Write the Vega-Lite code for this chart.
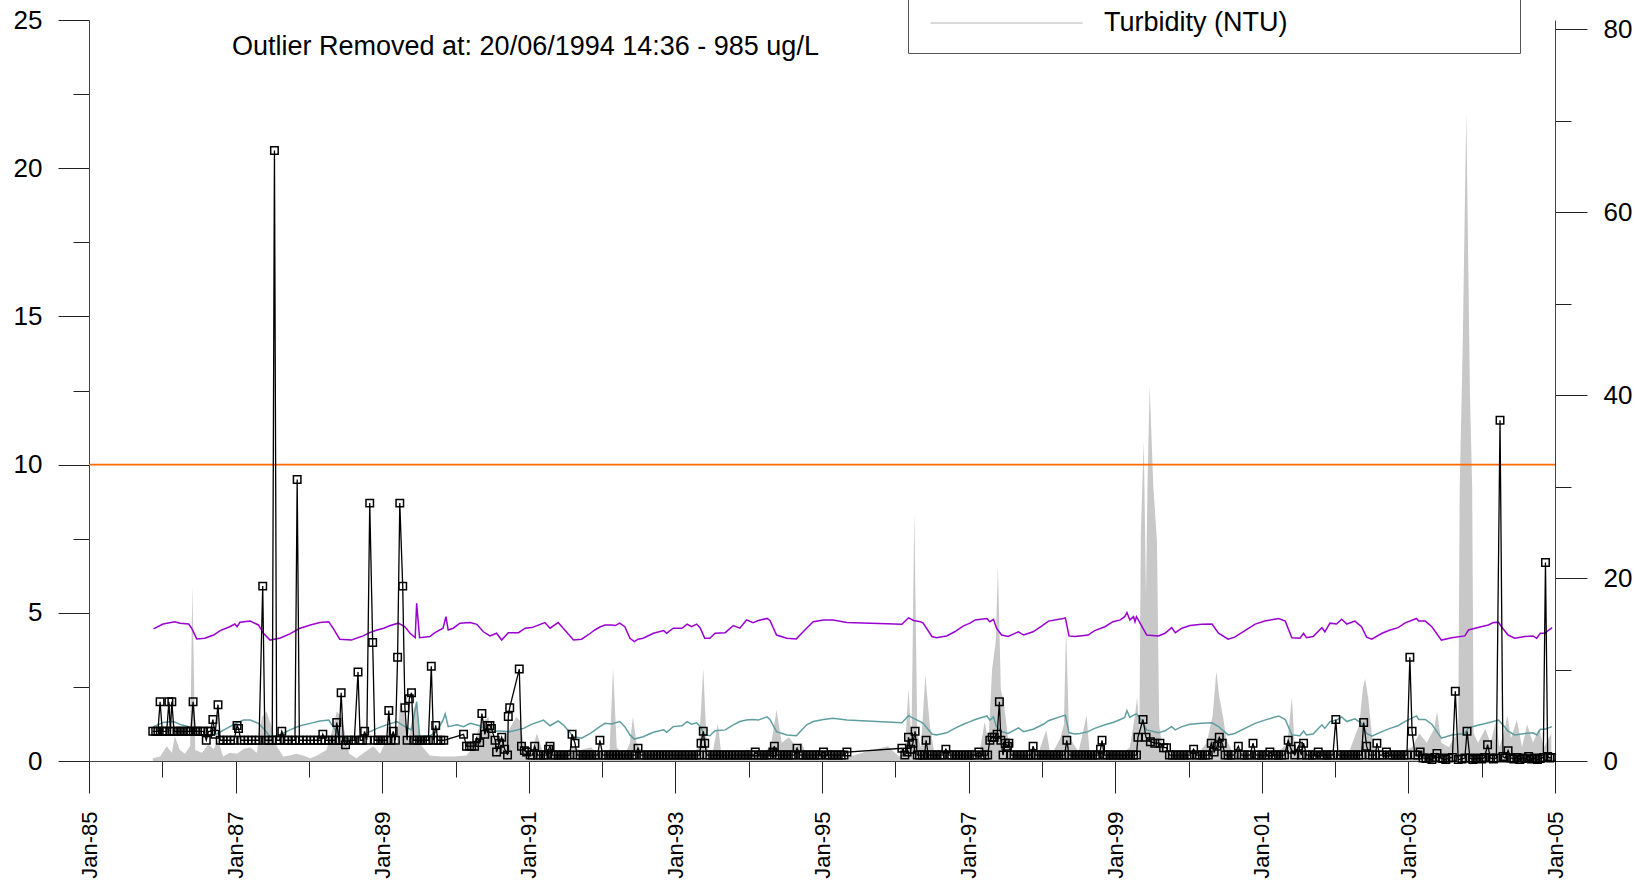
{
"$schema": "https://vega.github.io/schema/vega-lite/v6.json",
"width": 1466, "height": 741,
"autosize": {"type": "none"},
"padding": {"left": 89, "top": 20, "right": 87, "bottom": 120},
"background": "white",
"config": {"view": {"stroke": null}, "font": "Liberation Sans", "axis": {"grid": false, "domainColor": "#444", "tickColor": "#222", "labelColor": "#000", "labelFont": "Liberation Sans", "title": null}},
"title": {"text": "Outlier Removed at: 20/06/1994 14:36 - 985 ug/L", "anchor": "start", "frame": "group", "fontSize": 27, "fontWeight": "normal", "font": "Liberation Sans", "color": "#000", "offset": 0, "dx": 143, "dy": 81, "baseline": "middle"},
"datasets": {
"turb": [
{"year":1985.87,"turbidity":0.3},{"year":1985.97,"turbidity":0.5},{"year":1986.06,"turbidity":1.6},{"year":1986.13,"turbidity":0.9},{"year":1986.17,"turbidity":2.7},{"year":1986.24,"turbidity":1.2},{"year":1986.31,"turbidity":0.8},{"year":1986.38,"turbidity":1.6},{"year":1986.41,"turbidity":19.1},{"year":1986.45,"turbidity":1.2},{"year":1986.54,"turbidity":0.9},{"year":1986.63,"turbidity":1.8},{"year":1986.70,"turbidity":1.3},{"year":1986.76,"turbidity":2.3},{"year":1986.83,"turbidity":0.5},{"year":1986.92,"turbidity":0.9},{"year":1987.02,"turbidity":0.8},{"year":1987.11,"turbidity":1.3},{"year":1987.20,"turbidity":1.5},{"year":1987.29,"turbidity":0.9},{"year":1987.36,"turbidity":4.8},{"year":1987.42,"turbidity":5.4},{"year":1987.49,"turbidity":3.8},{"year":1987.56,"turbidity":1.6},{"year":1987.65,"turbidity":0.5},{"year":1987.74,"turbidity":0.6},{"year":1987.83,"turbidity":0.8},{"year":1987.92,"turbidity":0.6},{"year":1988.02,"turbidity":0.3},{"year":1988.11,"turbidity":0.6},{"year":1988.24,"turbidity":1.2},{"year":1988.34,"turbidity":4.0},{"year":1988.38,"turbidity":5.4},{"year":1988.45,"turbidity":4.8},{"year":1988.50,"turbidity":2.7},{"year":1988.55,"turbidity":0.8},{"year":1988.65,"turbidity":0.3},{"year":1988.75,"turbidity":0.9},{"year":1988.88,"turbidity":1.6},{"year":1988.97,"turbidity":0.8},{"year":1989.10,"turbidity":3.0},{"year":1989.15,"turbidity":3.0},{"year":1989.20,"turbidity":1.9},{"year":1989.25,"turbidity":6.7},{"year":1989.30,"turbidity":5.2},{"year":1989.36,"turbidity":2.3},{"year":1989.43,"turbidity":5.8},{"year":1989.47,"turbidity":6.1},{"year":1989.54,"turbidity":1.6},{"year":1989.65,"turbidity":0.6},{"year":1989.80,"turbidity":0.5},{"year":1989.98,"turbidity":0.5},{"year":1990.15,"turbidity":0.6},{"year":1990.25,"turbidity":1.6},{"year":1990.33,"turbidity":4.0},{"year":1990.45,"turbidity":4.8},{"year":1990.49,"turbidity":3.0},{"year":1990.55,"turbidity":1.6},{"year":1990.62,"turbidity":2.1},{"year":1990.70,"turbidity":3.0},{"year":1990.77,"turbidity":4.0},{"year":1990.83,"turbidity":4.8},{"year":1990.88,"turbidity":4.4},{"year":1990.93,"turbidity":1.9},{"year":1991.02,"turbidity":0.5},{"year":1991.11,"turbidity":3.0},{"year":1991.20,"turbidity":0.8},{"year":1991.30,"turbidity":0.5},{"year":1991.45,"turbidity":0.8},{"year":1991.60,"turbidity":1.5},{"year":1991.70,"turbidity":1.2},{"year":1991.85,"turbidity":1.5},{"year":1991.93,"turbidity":0.8},{"year":1992.02,"turbidity":1.2},{"year":1992.10,"turbidity":1.0},{"year":1992.15,"turbidity":10.1},{"year":1992.20,"turbidity":1.5},{"year":1992.30,"turbidity":0.5},{"year":1992.38,"turbidity":2.0},{"year":1992.42,"turbidity":4.8},{"year":1992.47,"turbidity":2.0},{"year":1992.60,"turbidity":0.5},{"year":1992.80,"turbidity":0.3},{"year":1993.00,"turbidity":0.4},{"year":1993.20,"turbidity":0.5},{"year":1993.32,"turbidity":1.5},{"year":1993.38,"turbidity":10.1},{"year":1993.43,"turbidity":1.5},{"year":1993.50,"turbidity":0.5},{"year":1993.58,"turbidity":4.1},{"year":1993.63,"turbidity":0.5},{"year":1993.80,"turbidity":0.4},{"year":1994.10,"turbidity":0.5},{"year":1994.30,"turbidity":1.5},{"year":1994.38,"turbidity":5.6},{"year":1994.45,"turbidity":2.0},{"year":1994.55,"turbidity":2.6},{"year":1994.65,"turbidity":1.5},{"year":1994.72,"turbidity":2.0},{"year":1994.80,"turbidity":0.5},{"year":1995.00,"turbidity":0.4},{"year":1995.30,"turbidity":0.3},{"year":1995.60,"turbidity":1.0},{"year":1995.90,"turbidity":1.6},{"year":1996.05,"turbidity":0.5},{"year":1996.13,"turbidity":1.0},{"year":1996.18,"turbidity":8.0},{"year":1996.22,"turbidity":2.0},{"year":1996.26,"turbidity":27.2},{"year":1996.30,"turbidity":3.0},{"year":1996.35,"turbidity":1.5},{"year":1996.41,"turbidity":9.4},{"year":1996.47,"turbidity":4.0},{"year":1996.53,"turbidity":1.0},{"year":1996.60,"turbidity":0.4},{"year":1996.80,"turbidity":0.3},{"year":1997.00,"turbidity":0.5},{"year":1997.15,"turbidity":1.0},{"year":1997.22,"turbidity":4.3},{"year":1997.27,"turbidity":2.0},{"year":1997.32,"turbidity":10.0},{"year":1997.37,"turbidity":13.0},{"year":1997.40,"turbidity":21.2},{"year":1997.44,"turbidity":7.8},{"year":1997.48,"turbidity":6.5},{"year":1997.53,"turbidity":3.0},{"year":1997.58,"turbidity":1.0},{"year":1997.70,"turbidity":0.5},{"year":1997.80,"turbidity":0.8},{"year":1997.90,"turbidity":1.5},{"year":1997.95,"turbidity":0.8},{"year":1998.06,"turbidity":3.4},{"year":1998.12,"turbidity":0.5},{"year":1998.25,"turbidity":2.5},{"year":1998.30,"turbidity":4.0},{"year":1998.33,"turbidity":14.6},{"year":1998.37,"turbidity":3.0},{"year":1998.42,"turbidity":2.0},{"year":1998.50,"turbidity":1.0},{"year":1998.61,"turbidity":5.0},{"year":1998.65,"turbidity":1.0},{"year":1998.80,"turbidity":0.6},{"year":1998.95,"turbidity":1.0},{"year":1999.10,"turbidity":0.8},{"year":1999.20,"turbidity":1.5},{"year":1999.27,"turbidity":5.0},{"year":1999.30,"turbidity":7.0},{"year":1999.33,"turbidity":3.0},{"year":1999.35,"turbidity":25},{"year":1999.39,"turbidity":35},{"year":1999.42,"turbidity":18},{"year":1999.44,"turbidity":30},{"year":1999.47,"turbidity":41},{"year":1999.52,"turbidity":30},{"year":1999.57,"turbidity":24},{"year":1999.60,"turbidity":4},{"year":1999.65,"turbidity":1.0},{"year":1999.80,"turbidity":0.6},{"year":2000.00,"turbidity":0.5},{"year":2000.15,"turbidity":1.0},{"year":2000.25,"turbidity":2.0},{"year":2000.33,"turbidity":5.0},{"year":2000.38,"turbidity":9.8},{"year":2000.42,"turbidity":7.0},{"year":2000.47,"turbidity":4.9},{"year":2000.52,"turbidity":2.3},{"year":2000.60,"turbidity":1.0},{"year":2000.80,"turbidity":0.8},{"year":2001.00,"turbidity":1.0},{"year":2001.20,"turbidity":0.8},{"year":2001.35,"turbidity":2.0},{"year":2001.41,"turbidity":7.0},{"year":2001.45,"turbidity":1.5},{"year":2001.60,"turbidity":0.8},{"year":2001.80,"turbidity":1.0},{"year":2002.00,"turbidity":0.8},{"year":2002.20,"turbidity":1.2},{"year":2002.33,"turbidity":4.0},{"year":2002.38,"turbidity":8.0},{"year":2002.41,"turbidity":9.0},{"year":2002.45,"turbidity":7.0},{"year":2002.52,"turbidity":1.5},{"year":2002.70,"turbidity":0.6},{"year":2002.90,"turbidity":1.0},{"year":2003.05,"turbidity":1.5},{"year":2003.15,"turbidity":3.0},{"year":2003.25,"turbidity":2.0},{"year":2003.35,"turbidity":3.5},{"year":2003.39,"turbidity":5.4},{"year":2003.45,"turbidity":2.0},{"year":2003.55,"turbidity":1.5},{"year":2003.62,"turbidity":2.5},{"year":2003.68,"turbidity":3},{"year":2003.70,"turbidity":30},{"year":2003.74,"turbidity":45},{"year":2003.79,"turbidity":71},{"year":2003.84,"turbidity":40},{"year":2003.87,"turbidity":30},{"year":2003.89,"turbidity":3},{"year":2003.95,"turbidity":2.0},{"year":2004.05,"turbidity":3.5},{"year":2004.12,"turbidity":2.0},{"year":2004.20,"turbidity":4.5},{"year":2004.24,"turbidity":1.5},{"year":2004.30,"turbidity":3.0},{"year":2004.35,"turbidity":5.0},{"year":2004.40,"turbidity":2.5},{"year":2004.48,"turbidity":4.5},{"year":2004.55,"turbidity":1.5},{"year":2004.62,"turbidity":4.0},{"year":2004.70,"turbidity":2.0},{"year":2004.78,"turbidity":3.5},{"year":2004.85,"turbidity":1.5},{"year":2004.95,"turbidity":3.0}
],
"purple": [
{"year":1985.88,"value":4.46},{"year":1986.01,"value":4.62},{"year":1986.17,"value":4.70},{"year":1986.24,"value":4.65},{"year":1986.36,"value":4.62},{"year":1986.40,"value":4.48},{"year":1986.47,"value":4.12},{"year":1986.58,"value":4.14},{"year":1986.70,"value":4.25},{"year":1986.79,"value":4.40},{"year":1986.92,"value":4.53},{"year":1986.99,"value":4.62},{"year":1987.02,"value":4.53},{"year":1987.06,"value":4.68},{"year":1987.20,"value":4.72},{"year":1987.31,"value":4.59},{"year":1987.38,"value":4.31},{"year":1987.47,"value":4.08},{"year":1987.61,"value":4.15},{"year":1987.74,"value":4.29},{"year":1987.88,"value":4.48},{"year":1988.02,"value":4.59},{"year":1988.15,"value":4.67},{"year":1988.27,"value":4.70},{"year":1988.33,"value":4.48},{"year":1988.42,"value":4.11},{"year":1988.58,"value":4.08},{"year":1988.74,"value":4.22},{"year":1988.83,"value":4.33},{"year":1988.93,"value":4.42},{"year":1989.02,"value":4.48},{"year":1989.11,"value":4.57},{"year":1989.22,"value":4.65},{"year":1989.31,"value":4.53},{"year":1989.38,"value":4.31},{"year":1989.45,"value":4.16},{"year":1989.47,"value":5.32},{"year":1989.51,"value":4.16},{"year":1989.65,"value":4.20},{"year":1989.72,"value":4.33},{"year":1989.83,"value":4.48},{"year":1989.87,"value":4.87},{"year":1989.90,"value":4.42},{"year":1989.97,"value":4.48},{"year":1990.06,"value":4.65},{"year":1990.20,"value":4.67},{"year":1990.29,"value":4.61},{"year":1990.38,"value":4.36},{"year":1990.47,"value":4.22},{"year":1990.56,"value":4.31},{"year":1990.63,"value":4.08},{"year":1990.72,"value":4.33},{"year":1990.86,"value":4.33},{"year":1990.95,"value":4.48},{"year":1991.04,"value":4.50},{"year":1991.22,"value":4.67},{"year":1991.29,"value":4.48},{"year":1991.40,"value":4.67},{"year":1991.47,"value":4.48},{"year":1991.61,"value":4.08},{"year":1991.72,"value":4.11},{"year":1991.84,"value":4.31},{"year":1991.90,"value":4.42},{"year":1991.97,"value":4.52},{"year":1992.04,"value":4.59},{"year":1992.13,"value":4.59},{"year":1992.18,"value":4.57},{"year":1992.24,"value":4.65},{"year":1992.31,"value":4.53},{"year":1992.38,"value":4.14},{"year":1992.44,"value":4.03},{"year":1992.49,"value":4.11},{"year":1992.56,"value":4.14},{"year":1992.70,"value":4.31},{"year":1992.84,"value":4.40},{"year":1992.88,"value":4.31},{"year":1992.97,"value":4.48},{"year":1993.09,"value":4.48},{"year":1993.16,"value":4.62},{"year":1993.22,"value":4.53},{"year":1993.29,"value":4.62},{"year":1993.34,"value":4.48},{"year":1993.40,"value":4.14},{"year":1993.47,"value":4.14},{"year":1993.54,"value":4.31},{"year":1993.68,"value":4.33},{"year":1993.79,"value":4.57},{"year":1993.88,"value":4.48},{"year":1993.97,"value":4.76},{"year":1994.06,"value":4.67},{"year":1994.13,"value":4.74},{"year":1994.25,"value":4.81},{"year":1994.29,"value":4.74},{"year":1994.38,"value":4.25},{"year":1994.52,"value":4.14},{"year":1994.65,"value":4.12},{"year":1994.70,"value":4.25},{"year":1994.79,"value":4.48},{"year":1994.88,"value":4.70},{"year":1995.02,"value":4.76},{"year":1995.15,"value":4.76},{"year":1995.34,"value":4.67},{"year":1996.09,"value":4.61},{"year":1996.18,"value":4.83},{"year":1996.25,"value":4.74},{"year":1996.34,"value":4.70},{"year":1996.38,"value":4.65},{"year":1996.50,"value":4.20},{"year":1996.56,"value":4.16},{"year":1996.70,"value":4.22},{"year":1996.81,"value":4.36},{"year":1996.93,"value":4.56},{"year":1997.02,"value":4.65},{"year":1997.09,"value":4.76},{"year":1997.25,"value":4.81},{"year":1997.29,"value":4.70},{"year":1997.34,"value":4.78},{"year":1997.38,"value":4.48},{"year":1997.45,"value":4.25},{"year":1997.54,"value":4.20},{"year":1997.68,"value":4.36},{"year":1997.75,"value":4.25},{"year":1997.88,"value":4.36},{"year":1998.02,"value":4.59},{"year":1998.09,"value":4.72},{"year":1998.29,"value":4.81},{"year":1998.32,"value":4.83},{"year":1998.37,"value":4.22},{"year":1998.45,"value":4.20},{"year":1998.52,"value":4.22},{"year":1998.63,"value":4.25},{"year":1998.72,"value":4.40},{"year":1998.86,"value":4.53},{"year":1998.97,"value":4.70},{"year":1999.07,"value":4.76},{"year":1999.13,"value":4.87},{"year":1999.16,"value":5.01},{"year":1999.20,"value":4.76},{"year":1999.25,"value":4.87},{"year":1999.27,"value":4.70},{"year":1999.29,"value":4.87},{"year":1999.34,"value":4.65},{"year":1999.43,"value":4.25},{"year":1999.59,"value":4.22},{"year":1999.68,"value":4.31},{"year":1999.77,"value":4.50},{"year":1999.82,"value":4.33},{"year":1999.91,"value":4.48},{"year":2000.02,"value":4.57},{"year":2000.18,"value":4.61},{"year":2000.32,"value":4.62},{"year":2000.41,"value":4.31},{"year":2000.54,"value":4.11},{"year":2000.63,"value":4.18},{"year":2000.77,"value":4.40},{"year":2000.91,"value":4.62},{"year":2001.04,"value":4.72},{"year":2001.23,"value":4.81},{"year":2001.32,"value":4.72},{"year":2001.41,"value":4.16},{"year":2001.52,"value":4.14},{"year":2001.57,"value":4.31},{"year":2001.61,"value":4.16},{"year":2001.70,"value":4.20},{"year":2001.82,"value":4.50},{"year":2001.86,"value":4.36},{"year":2001.93,"value":4.65},{"year":2002.02,"value":4.62},{"year":2002.09,"value":4.78},{"year":2002.16,"value":4.62},{"year":2002.27,"value":4.72},{"year":2002.36,"value":4.53},{"year":2002.43,"value":4.18},{"year":2002.50,"value":4.11},{"year":2002.64,"value":4.31},{"year":2002.75,"value":4.42},{"year":2002.86,"value":4.50},{"year":2002.95,"value":4.65},{"year":2003.11,"value":4.81},{"year":2003.14,"value":4.72},{"year":2003.23,"value":4.72},{"year":2003.32,"value":4.53},{"year":2003.45,"value":4.08},{"year":2003.59,"value":4.16},{"year":2003.77,"value":4.22},{"year":2003.82,"value":4.42},{"year":2003.91,"value":4.48},{"year":2004.09,"value":4.59},{"year":2004.16,"value":4.67},{"year":2004.23,"value":4.68},{"year":2004.27,"value":4.53},{"year":2004.36,"value":4.25},{"year":2004.45,"value":4.14},{"year":2004.59,"value":4.20},{"year":2004.70,"value":4.22},{"year":2004.75,"value":4.14},{"year":2004.80,"value":4.31},{"year":2004.86,"value":4.31},{"year":2004.96,"value":4.50}
],
"teal": [
{"year":1985.88,"value":1.16},{"year":1986.01,"value":1.30},{"year":1986.15,"value":1.33},{"year":1986.26,"value":1.22},{"year":1986.36,"value":1.16},{"year":1986.47,"value":0.90},{"year":1986.61,"value":0.82},{"year":1986.74,"value":0.91},{"year":1986.88,"value":1.10},{"year":1987.02,"value":1.29},{"year":1987.11,"value":1.38},{"year":1987.20,"value":1.38},{"year":1987.31,"value":1.27},{"year":1987.38,"value":1.10},{"year":1987.47,"value":0.82},{"year":1987.61,"value":0.88},{"year":1987.74,"value":1.05},{"year":1987.88,"value":1.19},{"year":1988.02,"value":1.27},{"year":1988.15,"value":1.35},{"year":1988.27,"value":1.38},{"year":1988.33,"value":1.16},{"year":1988.42,"value":0.82},{"year":1988.56,"value":0.74},{"year":1988.74,"value":0.88},{"year":1988.93,"value":1.10},{"year":1989.06,"value":1.22},{"year":1989.20,"value":1.33},{"year":1989.31,"value":1.16},{"year":1989.40,"value":1.05},{"year":1989.47,"value":2.00},{"year":1989.51,"value":0.82},{"year":1989.65,"value":0.85},{"year":1989.74,"value":0.99},{"year":1989.83,"value":1.38},{"year":1989.86,"value":1.59},{"year":1989.90,"value":1.16},{"year":1990.02,"value":1.22},{"year":1990.11,"value":1.16},{"year":1990.20,"value":1.27},{"year":1990.33,"value":1.19},{"year":1990.43,"value":1.05},{"year":1990.52,"value":1.01},{"year":1990.61,"value":1.01},{"year":1990.74,"value":0.99},{"year":1990.93,"value":1.10},{"year":1991.02,"value":1.22},{"year":1991.20,"value":1.38},{"year":1991.29,"value":1.19},{"year":1991.40,"value":1.35},{"year":1991.47,"value":1.22},{"year":1991.61,"value":0.82},{"year":1991.72,"value":0.77},{"year":1991.84,"value":0.93},{"year":1991.97,"value":1.16},{"year":1992.04,"value":1.27},{"year":1992.13,"value":1.25},{"year":1992.24,"value":1.33},{"year":1992.31,"value":1.16},{"year":1992.38,"value":0.88},{"year":1992.44,"value":0.74},{"year":1992.56,"value":0.82},{"year":1992.70,"value":0.97},{"year":1992.84,"value":1.05},{"year":1992.88,"value":0.97},{"year":1992.97,"value":1.16},{"year":1993.09,"value":1.19},{"year":1993.16,"value":1.33},{"year":1993.22,"value":1.24},{"year":1993.29,"value":1.29},{"year":1993.34,"value":1.16},{"year":1993.40,"value":0.88},{"year":1993.47,"value":0.85},{"year":1993.54,"value":1.02},{"year":1993.68,"value":1.05},{"year":1993.79,"value":1.22},{"year":1993.88,"value":1.33},{"year":1993.97,"value":1.38},{"year":1994.06,"value":1.40},{"year":1994.13,"value":1.38},{"year":1994.25,"value":1.49},{"year":1994.29,"value":1.40},{"year":1994.38,"value":0.99},{"year":1994.52,"value":0.88},{"year":1994.65,"value":0.85},{"year":1994.70,"value":0.99},{"year":1994.79,"value":1.22},{"year":1994.88,"value":1.33},{"year":1995.02,"value":1.40},{"year":1995.15,"value":1.44},{"year":1995.34,"value":1.38},{"year":1996.09,"value":1.29},{"year":1996.18,"value":1.53},{"year":1996.25,"value":1.44},{"year":1996.34,"value":1.33},{"year":1996.38,"value":1.27},{"year":1996.50,"value":0.91},{"year":1996.56,"value":0.88},{"year":1996.70,"value":0.95},{"year":1996.81,"value":1.10},{"year":1996.93,"value":1.24},{"year":1997.02,"value":1.33},{"year":1997.09,"value":1.40},{"year":1997.25,"value":1.52},{"year":1997.29,"value":1.38},{"year":1997.34,"value":1.49},{"year":1997.38,"value":1.16},{"year":1997.45,"value":0.99},{"year":1997.54,"value":0.93},{"year":1997.68,"value":1.12},{"year":1997.75,"value":0.99},{"year":1997.88,"value":1.07},{"year":1998.02,"value":1.24},{"year":1998.09,"value":1.36},{"year":1998.29,"value":1.53},{"year":1998.32,"value":1.54},{"year":1998.37,"value":0.95},{"year":1998.45,"value":0.91},{"year":1998.52,"value":0.93},{"year":1998.63,"value":0.99},{"year":1998.72,"value":1.10},{"year":1998.86,"value":1.22},{"year":1998.97,"value":1.30},{"year":1999.07,"value":1.40},{"year":1999.13,"value":1.47},{"year":1999.16,"value":1.70},{"year":1999.20,"value":1.47},{"year":1999.25,"value":1.55},{"year":1999.29,"value":1.59},{"year":1999.34,"value":1.44},{"year":1999.43,"value":1.05},{"year":1999.59,"value":0.95},{"year":1999.68,"value":1.02},{"year":1999.77,"value":1.16},{"year":1999.82,"value":1.05},{"year":1999.91,"value":1.16},{"year":2000.02,"value":1.24},{"year":2000.18,"value":1.27},{"year":2000.32,"value":1.29},{"year":2000.41,"value":1.16},{"year":2000.54,"value":0.88},{"year":2000.63,"value":0.93},{"year":2000.77,"value":1.10},{"year":2000.91,"value":1.27},{"year":2001.04,"value":1.38},{"year":2001.23,"value":1.52},{"year":2001.32,"value":1.40},{"year":2001.41,"value":0.88},{"year":2001.52,"value":0.85},{"year":2001.57,"value":1.01},{"year":2001.61,"value":0.88},{"year":2001.70,"value":0.91},{"year":2001.82,"value":1.22},{"year":2001.86,"value":1.10},{"year":2001.93,"value":1.33},{"year":2002.02,"value":1.38},{"year":2002.09,"value":1.49},{"year":2002.16,"value":1.33},{"year":2002.27,"value":1.42},{"year":2002.36,"value":1.27},{"year":2002.43,"value":0.93},{"year":2002.50,"value":0.84},{"year":2002.64,"value":0.99},{"year":2002.75,"value":1.10},{"year":2002.86,"value":1.19},{"year":2002.95,"value":1.33},{"year":2003.11,"value":1.52},{"year":2003.14,"value":1.40},{"year":2003.23,"value":1.40},{"year":2003.32,"value":1.24},{"year":2003.45,"value":0.77},{"year":2003.59,"value":0.88},{"year":2003.77,"value":0.93},{"year":2003.82,"value":1.12},{"year":2003.91,"value":1.18},{"year":2004.09,"value":1.29},{"year":2004.23,"value":1.38},{"year":2004.27,"value":1.27},{"year":2004.36,"value":1.01},{"year":2004.45,"value":0.88},{"year":2004.59,"value":0.93},{"year":2004.70,"value":0.95},{"year":2004.75,"value":0.88},{"year":2004.80,"value":1.07},{"year":2004.86,"value":1.07},{"year":2004.96,"value":1.16}
],
"conc": [
{"year":1985.87,"conc":1.0},{"year":1985.91,"conc":1.0},{"year":1985.94,"conc":1.0},{"year":1985.97,"conc":2.0},{"year":1986.00,"conc":1.0},{"year":1986.03,"conc":1.0},{"year":1986.06,"conc":1.0},{"year":1986.09,"conc":2.0},{"year":1986.11,"conc":1.0},{"year":1986.13,"conc":2.0},{"year":1986.16,"conc":1.0},{"year":1986.20,"conc":1.0},{"year":1986.24,"conc":1.0},{"year":1986.28,"conc":1.0},{"year":1986.32,"conc":1.0},{"year":1986.36,"conc":1.0},{"year":1986.39,"conc":1.0},{"year":1986.42,"conc":2.0},{"year":1986.45,"conc":1.0},{"year":1986.48,"conc":1.0},{"year":1986.52,"conc":1.0},{"year":1986.56,"conc":1.0},{"year":1986.60,"conc":0.7},{"year":1986.63,"conc":1.0},{"year":1986.66,"conc":1.0},{"year":1986.69,"conc":1.4},{"year":1986.72,"conc":0.9},{"year":1986.76,"conc":1.9},{"year":1986.79,"conc":0.7},
{"year":1986.83,"conc":0.7},{"year":1986.88,"conc":0.7},{"year":1986.93,"conc":0.7},{"year":1986.98,"conc":0.7},{"year":1987.02,"conc":1.2},{"year":1987.04,"conc":1.1},{"year":1987.07,"conc":0.7},{"year":1987.12,"conc":0.7},{"year":1987.17,"conc":0.7},{"year":1987.22,"conc":0.7},{"year":1987.27,"conc":0.7},{"year":1987.32,"conc":0.7},{"year":1987.37,"conc":5.9},{"year":1987.40,"conc":0.7},{"year":1987.45,"conc":0.7},{"year":1987.50,"conc":0.7},{"year":1987.53,"conc":20.6},{"year":1987.56,"conc":0.7},{"year":1987.60,"conc":0.7},{"year":1987.63,"conc":1.0},{"year":1987.67,"conc":0.7},{"year":1987.72,"conc":0.7},{"year":1987.77,"conc":0.7},{"year":1987.81,"conc":0.7},{"year":1987.84,"conc":9.5},{"year":1987.87,"conc":0.7},{"year":1987.92,"conc":0.7},{"year":1987.97,"conc":0.7},{"year":1988.02,"conc":0.7},{"year":1988.07,"conc":0.7},{"year":1988.12,"conc":0.7},{"year":1988.17,"conc":0.7},{"year":1988.19,"conc":0.9},{"year":1988.22,"conc":0.7},{"year":1988.27,"conc":0.7},{"year":1988.32,"conc":0.7},{"year":1988.36,"conc":0.7},{"year":1988.38,"conc":1.3},{"year":1988.41,"conc":0.7},{"year":1988.44,"conc":2.3},{"year":1988.47,"conc":0.7},{"year":1988.50,"conc":0.55},{"year":1988.54,"conc":0.7},{"year":1988.58,"conc":0.7},{"year":1988.62,"conc":0.7},{"year":1988.67,"conc":3.0},{"year":1988.70,"conc":0.7},{"year":1988.73,"conc":0.7},{"year":1988.76,"conc":1.0},{"year":1988.79,"conc":0.7},{"year":1988.83,"conc":8.7},{"year":1988.87,"conc":4.0},{"year":1988.90,"conc":0.7},{"year":1988.94,"conc":0.7},{"year":1988.98,"conc":0.7},{"year":1989.02,"conc":0.7},{"year":1989.06,"conc":0.7},{"year":1989.09,"conc":1.7},{"year":1989.12,"conc":0.7},{"year":1989.15,"conc":1.0},{"year":1989.18,"conc":0.7},{"year":1989.21,"conc":3.5},{"year":1989.24,"conc":8.7},{"year":1989.28,"conc":5.9},{"year":1989.31,"conc":1.8},{"year":1989.34,"conc":0.7},{"year":1989.37,"conc":2.1},{"year":1989.40,"conc":2.3},{"year":1989.43,"conc":0.7},{"year":1989.47,"conc":0.7},{"year":1989.51,"conc":0.7},{"year":1989.55,"conc":0.7},{"year":1989.59,"conc":0.7},{"year":1989.63,"conc":0.7},{"year":1989.67,"conc":3.2},{"year":1989.70,"conc":0.7},{"year":1989.73,"conc":1.2},{"year":1989.76,"conc":0.7},{"year":1989.80,"conc":0.7},{"year":1989.84,"conc":0.7},
{"year":1990.11,"conc":0.9},{"year":1990.15,"conc":0.5},{"year":1990.19,"conc":0.5},{"year":1990.22,"conc":0.5},{"year":1990.26,"conc":0.5},{"year":1990.29,"conc":0.78},{"year":1990.33,"conc":0.62},{"year":1990.36,"conc":1.6},{"year":1990.40,"conc":0.9},{"year":1990.44,"conc":1.2},{"year":1990.47,"conc":1.2},{"year":1990.49,"conc":1.1},{"year":1990.54,"conc":0.7},{"year":1990.56,"conc":0.3},{"year":1990.60,"conc":0.6},{"year":1990.63,"conc":0.8},{"year":1990.67,"conc":0.4},{"year":1990.71,"conc":0.2},{"year":1990.72,"conc":1.5},{"year":1990.74,"conc":1.8},{"year":1990.87,"conc":3.1},{"year":1990.90,"conc":0.5},{"year":1990.94,"conc":0.35},{"year":1990.97,"conc":0.3},{"year":1991.02,"conc":0.2},{"year":1991.05,"conc":0.2},{"year":1991.08,"conc":0.5},
{"year":1991.12,"conc":0.2},{"year":1991.16,"conc":0.2},{"year":1991.20,"conc":0.2},{"year":1991.24,"conc":0.2},{"year":1991.27,"conc":0.4},{"year":1991.29,"conc":0.5},{"year":1991.32,"conc":0.2},{"year":1991.36,"conc":0.2},{"year":1991.40,"conc":0.2},{"year":1991.44,"conc":0.2},{"year":1991.48,"conc":0.2},{"year":1991.52,"conc":0.2},{"year":1991.56,"conc":0.2},{"year":1991.59,"conc":0.9},{"year":1991.63,"conc":0.6},{"year":1991.66,"conc":0.2},{"year":1991.70,"conc":0.2},{"year":1991.74,"conc":0.2},{"year":1991.78,"conc":0.2},{"year":1991.82,"conc":0.2},{"year":1991.86,"conc":0.2},{"year":1991.90,"conc":0.2},{"year":1991.94,"conc":0.2},{"year":1991.97,"conc":0.7},{"year":1992.01,"conc":0.2},{"year":1992.05,"conc":0.2},{"year":1992.09,"conc":0.2},{"year":1992.13,"conc":0.2},{"year":1992.17,"conc":0.2},{"year":1992.21,"conc":0.2},{"year":1992.25,"conc":0.2},{"year":1992.29,"conc":0.2},{"year":1992.33,"conc":0.2},{"year":1992.37,"conc":0.2},{"year":1992.41,"conc":0.2},{"year":1992.45,"conc":0.2},{"year":1992.49,"conc":0.43},{"year":1992.53,"conc":0.2},{"year":1992.57,"conc":0.2},{"year":1992.61,"conc":0.2},{"year":1992.65,"conc":0.2},{"year":1992.69,"conc":0.2},{"year":1992.73,"conc":0.2},{"year":1992.77,"conc":0.2},{"year":1992.81,"conc":0.2},{"year":1992.85,"conc":0.2},{"year":1992.89,"conc":0.2},{"year":1992.93,"conc":0.2},{"year":1992.97,"conc":0.2},{"year":1993.01,"conc":0.2},{"year":1993.05,"conc":0.2},{"year":1993.09,"conc":0.2},{"year":1993.13,"conc":0.2},{"year":1993.17,"conc":0.2},{"year":1993.21,"conc":0.2},{"year":1993.25,"conc":0.2},{"year":1993.29,"conc":0.2},{"year":1993.33,"conc":0.2},{"year":1993.35,"conc":0.6},{"year":1993.38,"conc":1.0},{"year":1993.40,"conc":0.6},{"year":1993.43,"conc":0.2},{"year":1993.47,"conc":0.2},{"year":1993.51,"conc":0.2},{"year":1993.55,"conc":0.2},{"year":1993.59,"conc":0.2},{"year":1993.63,"conc":0.2},{"year":1993.67,"conc":0.2},{"year":1993.71,"conc":0.2},{"year":1993.75,"conc":0.2},{"year":1993.79,"conc":0.2},{"year":1993.83,"conc":0.2},{"year":1993.87,"conc":0.2},{"year":1993.91,"conc":0.2},{"year":1993.95,"conc":0.2},{"year":1993.99,"conc":0.2},{"year":1994.03,"conc":0.2},{"year":1994.07,"conc":0.2},{"year":1994.09,"conc":0.3},{"year":1994.13,"conc":0.2},{"year":1994.17,"conc":0.2},{"year":1994.21,"conc":0.2},{"year":1994.25,"conc":0.2},{"year":1994.29,"conc":0.2},{"year":1994.33,"conc":0.3},{"year":1994.35,"conc":0.5},{"year":1994.38,"conc":0.2},{"year":1994.42,"conc":0.2},{"year":1994.46,"conc":0.2},{"year":1994.50,"conc":0.2},{"year":1994.54,"conc":0.2},{"year":1994.58,"conc":0.2},{"year":1994.62,"conc":0.2},{"year":1994.66,"conc":0.43},{"year":1994.70,"conc":0.2},{"year":1994.74,"conc":0.2},{"year":1994.78,"conc":0.2},{"year":1994.82,"conc":0.2},{"year":1994.86,"conc":0.2},{"year":1994.90,"conc":0.2},{"year":1994.94,"conc":0.2},{"year":1994.98,"conc":0.2},{"year":1995.02,"conc":0.3},{"year":1995.06,"conc":0.2},{"year":1995.10,"conc":0.2},{"year":1995.14,"conc":0.2},{"year":1995.18,"conc":0.2},{"year":1995.22,"conc":0.2},{"year":1995.26,"conc":0.2},{"year":1995.30,"conc":0.2},{"year":1995.34,"conc":0.3},
{"year":1996.09,"conc":0.43},{"year":1996.13,"conc":0.2},{"year":1996.16,"conc":0.3},{"year":1996.18,"conc":0.8},{"year":1996.21,"conc":0.4},{"year":1996.24,"conc":0.6},{"year":1996.27,"conc":1.0},{"year":1996.30,"conc":0.2},{"year":1996.33,"conc":0.2},{"year":1996.37,"conc":0.2},{"year":1996.40,"conc":0.2},{"year":1996.42,"conc":0.7},{"year":1996.45,"conc":0.2},{"year":1996.49,"conc":0.2},{"year":1996.53,"conc":0.2},{"year":1996.57,"conc":0.2},{"year":1996.61,"conc":0.2},{"year":1996.65,"conc":0.2},{"year":1996.69,"conc":0.4},{"year":1996.73,"conc":0.2},{"year":1996.77,"conc":0.2},{"year":1996.81,"conc":0.2},{"year":1996.85,"conc":0.2},{"year":1996.89,"conc":0.2},{"year":1996.93,"conc":0.2},{"year":1996.97,"conc":0.2},{"year":1997.01,"conc":0.2},{"year":1997.05,"conc":0.2},{"year":1997.09,"conc":0.2},{"year":1997.14,"conc":0.3},{"year":1997.18,"conc":0.2},{"year":1997.22,"conc":0.2},{"year":1997.26,"conc":0.2},{"year":1997.29,"conc":0.7},{"year":1997.32,"conc":0.8},{"year":1997.35,"conc":0.8},{"year":1997.39,"conc":0.9},{"year":1997.42,"conc":2.0},{"year":1997.44,"conc":0.7},{"year":1997.47,"conc":0.2},{"year":1997.50,"conc":0.6},{"year":1997.53,"conc":0.5},{"year":1997.55,"conc":0.6},{"year":1997.58,"conc":0.2},{"year":1997.62,"conc":0.2},{"year":1997.66,"conc":0.2},{"year":1997.70,"conc":0.2},{"year":1997.74,"conc":0.2},{"year":1997.78,"conc":0.2},{"year":1997.82,"conc":0.2},{"year":1997.85,"conc":0.2},{"year":1997.88,"conc":0.5},{"year":1997.91,"conc":0.2},{"year":1997.95,"conc":0.2},{"year":1997.99,"conc":0.2},{"year":1998.03,"conc":0.2},{"year":1998.07,"conc":0.2},{"year":1998.11,"conc":0.2},{"year":1998.15,"conc":0.2},{"year":1998.19,"conc":0.2},{"year":1998.23,"conc":0.2},{"year":1998.27,"conc":0.2},{"year":1998.31,"conc":0.2},{"year":1998.34,"conc":0.7},{"year":1998.37,"conc":0.2},{"year":1998.41,"conc":0.2},{"year":1998.45,"conc":0.2},{"year":1998.49,"conc":0.2},{"year":1998.53,"conc":0.2},{"year":1998.57,"conc":0.2},{"year":1998.61,"conc":0.2},{"year":1998.65,"conc":0.2},{"year":1998.69,"conc":0.2},{"year":1998.73,"conc":0.2},{"year":1998.77,"conc":0.2},{"year":1998.80,"conc":0.4},{"year":1998.82,"conc":0.7},{"year":1998.85,"conc":0.2},{"year":1998.89,"conc":0.2},{"year":1998.93,"conc":0.2},{"year":1998.97,"conc":0.2},{"year":1999.01,"conc":0.2},{"year":1999.05,"conc":0.2},{"year":1999.09,"conc":0.2},{"year":1999.13,"conc":0.2},{"year":1999.17,"conc":0.2},{"year":1999.21,"conc":0.2},{"year":1999.25,"conc":0.2},{"year":1999.29,"conc":0.2},{"year":1999.31,"conc":0.8},{"year":1999.38,"conc":1.4},{"year":1999.42,"conc":0.8},{"year":1999.48,"conc":0.65},{"year":1999.54,"conc":0.6},{"year":1999.61,"conc":0.6},{"year":1999.66,"conc":0.45},{"year":1999.70,"conc":0.45},{"year":1999.74,"conc":0.2},{"year":1999.78,"conc":0.2},{"year":1999.82,"conc":0.2},{"year":1999.86,"conc":0.2},{"year":1999.90,"conc":0.2},{"year":1999.94,"conc":0.2},{"year":1999.98,"conc":0.2},{"year":2000.02,"conc":0.2},{"year":2000.07,"conc":0.4},{"year":2000.11,"conc":0.2},{"year":2000.15,"conc":0.2},{"year":2000.19,"conc":0.2},{"year":2000.23,"conc":0.2},{"year":2000.27,"conc":0.2},{"year":2000.31,"conc":0.6},{"year":2000.35,"conc":0.3},{"year":2000.39,"conc":0.5},{"year":2000.42,"conc":0.8},{"year":2000.46,"conc":0.6},{"year":2000.50,"conc":0.2},{"year":2000.54,"conc":0.2},{"year":2000.58,"conc":0.2},{"year":2000.62,"conc":0.2},{"year":2000.68,"conc":0.5},{"year":2000.72,"conc":0.2},{"year":2000.76,"conc":0.2},{"year":2000.80,"conc":0.2},{"year":2000.84,"conc":0.2},{"year":2000.88,"conc":0.6},{"year":2000.92,"conc":0.2},{"year":2000.96,"conc":0.2},{"year":2001.00,"conc":0.2},{"year":2001.04,"conc":0.2},{"year":2001.08,"conc":0.2},{"year":2001.11,"conc":0.3},{"year":2001.15,"conc":0.2},{"year":2001.19,"conc":0.2},{"year":2001.23,"conc":0.2},{"year":2001.27,"conc":0.2},{"year":2001.31,"conc":0.2},{"year":2001.36,"conc":0.7},{"year":2001.40,"conc":0.4},{"year":2001.45,"conc":0.2},{"year":2001.50,"conc":0.5},{"year":2001.54,"conc":0.2},{"year":2001.57,"conc":0.6},{"year":2001.61,"conc":0.2},{"year":2001.65,"conc":0.2},{"year":2001.69,"conc":0.2},{"year":2001.73,"conc":0.2},{"year":2001.77,"conc":0.3},{"year":2001.81,"conc":0.2},{"year":2001.85,"conc":0.2},{"year":2001.89,"conc":0.2},{"year":2001.93,"conc":0.2},{"year":2001.97,"conc":0.2},{"year":2002.01,"conc":1.4},{"year":2002.04,"conc":0.2},{"year":2002.08,"conc":0.2},{"year":2002.12,"conc":0.2},{"year":2002.16,"conc":0.2},{"year":2002.20,"conc":0.2},{"year":2002.24,"conc":0.2},{"year":2002.28,"conc":0.2},{"year":2002.32,"conc":0.2},{"year":2002.36,"conc":0.2},{"year":2002.39,"conc":1.3},{"year":2002.43,"conc":0.5},{"year":2002.47,"conc":0.2},{"year":2002.51,"conc":0.2},{"year":2002.55,"conc":0.2},{"year":2002.57,"conc":0.6},{"year":2002.61,"conc":0.2},{"year":2002.65,"conc":0.2},{"year":2002.70,"conc":0.3},{"year":2002.74,"conc":0.2},{"year":2002.78,"conc":0.2},{"year":2002.82,"conc":0.2},{"year":2002.86,"conc":0.2},{"year":2002.90,"conc":0.2},{"year":2002.94,"conc":0.2},{"year":2002.98,"conc":0.2},{"year":2003.02,"conc":3.5},{"year":2003.05,"conc":1.0},{"year":2003.09,"conc":0.2},{"year":2003.13,"conc":0.2},{"year":2003.16,"conc":0.3},
{"year":2003.20,"conc":0.1},{"year":2003.24,"conc":0.08},{"year":2003.28,"conc":0.1},{"year":2003.32,"conc":0.05},{"year":2003.36,"conc":0.12},{"year":2003.39,"conc":0.25},{"year":2003.43,"conc":0.1},{"year":2003.47,"conc":0.08},{"year":2003.51,"conc":0.05},{"year":2003.55,"conc":0.1},{"year":2003.60,"conc":0.12},{"year":2003.64,"conc":2.35},{"year":2003.68,"conc":0.05},{"year":2003.73,"conc":0.07},{"year":2003.77,"conc":0.1},{"year":2003.80,"conc":1.0},{"year":2003.84,"conc":0.1},{"year":2003.88,"conc":0.05},{"year":2003.92,"conc":0.08},{"year":2003.96,"conc":0.1},{"year":2004.00,"conc":0.07},{"year":2004.04,"conc":0.12},{"year":2004.08,"conc":0.55},{"year":2004.12,"conc":0.1},{"year":2004.16,"conc":0.07},{"year":2004.20,"conc":0.1},{"year":2004.25,"conc":11.5},{"year":2004.29,"conc":0.15},{"year":2004.32,"conc":0.1},{"year":2004.36,"conc":0.35},{"year":2004.40,"conc":0.1},{"year":2004.44,"conc":0.07},{"year":2004.48,"conc":0.12},{"year":2004.52,"conc":0.05},{"year":2004.56,"conc":0.1},{"year":2004.60,"conc":0.08},{"year":2004.64,"conc":0.15},{"year":2004.68,"conc":0.07},{"year":2004.72,"conc":0.1},{"year":2004.76,"conc":0.05},{"year":2004.80,"conc":0.08},{"year":2004.84,"conc":0.12},{"year":2004.87,"conc":6.7},{"year":2004.90,"conc":0.15},{"year":2004.93,"conc":0.1},{"year":2004.95,"conc":0.12}
]
},
"layer": [
{
"data": {"name": "turb"},
"mark": {"type": "area", "interpolate": "linear"},
"encoding": {
"x": {"field": "year", "type": "quantitative", "scale": {"domain": [1985, 2005], "nice": false, "zero": false},
 "axis": {"values": [1985,1986,1987,1988,1989,1990,1991,1992,1993,1994,1995,1996,1997,1998,1999,2000,2001,2002,2003,2004,2005],
  "tickSize": {"condition": {"test": "datum.value % 2 == 1", "value": 32}, "value": 16},
  "labelExpr": "datum.value % 2 == 1 ? 'Jan-' + slice(toString(datum.value), 2) : ''",
  "labelAngle": -90, "labelFontSize": 22, "labelPadding": 18, "title": null, "domainColor": "#444", "tickColor": "#222"}},
"y": {"field": "turbidity", "type": "quantitative", "scale": {"domain": [0, 81], "nice": false},
 "axis": {"orient": "right", "values": [0,10,20,30,40,50,60,70,80],
  "tickSize": {"condition": {"test": "datum.value % 20 == 0", "value": 32}, "value": 16},
  "labelExpr": "datum.value % 20 == 0 ? toString(datum.value) : ''",
  "labelFontSize": 26, "labelPadding": 16, "title": null}},
"color": {"datum": "Turbidity (NTU)", "scale": {"range": ["#c8c8c8"]},
 "legend": {"orient": "none", "legendX": 819, "legendY": -27, "title": null, "symbolType": "stroke", "symbolSize": 23104, "symbolStrokeWidth": 1, "symbolStrokeColor": "#b4b4b4", "clipHeight": 32, "labelFontSize": 27, "labelFont": "Liberation Sans", "labelColor": "#000", "labelOffset": 21, "labelLimit": 1000, "padding": 14, "symbolOffset": 8, "strokeColor": "#555", "fillColor": "white",
  "labelExpr": "datum.label + '\u00a0\u00a0\u00a0\u00a0\u00a0\u00a0\u00a0\u00a0\u00a0\u00a0\u00a0\u00a0\u00a0\u00a0\u00a0\u00a0\u00a0\u00a0\u00a0\u00a0\u00a0\u00a0\u00a0\u00a0\u00a0\u00a0\u00a0\u00a0\u00a0\u200b'"}}
}
},
{
"layer": [
{"data": {"values": [{}]}, "mark": {"type": "rule", "color": "#ff6a00", "strokeWidth": 1.6},
 "encoding": {"y": {"datum": 10, "type": "quantitative", "scale": {"domain": [0, 25], "nice": false}}}},
{"data": {"name": "purple"}, "mark": {"type": "line", "color": "#9a00d0", "strokeWidth": 1.5},
 "encoding": {"x": {"field": "year", "type": "quantitative"}, "y": {"field": "value", "type": "quantitative", "scale": {"domain": [0, 25], "nice": false}}}},
{"data": {"name": "teal"}, "mark": {"type": "line", "color": "#5f9ea0", "strokeWidth": 1.5},
 "encoding": {"x": {"field": "year", "type": "quantitative"}, "y": {"field": "value", "type": "quantitative", "scale": {"domain": [0, 25], "nice": false}}}},
{"data": {"name": "conc"}, "mark": {"type": "line", "color": "#000", "strokeWidth": 1.3, "point": {"shape": "square", "filled": false, "size": 56, "color": "#000", "strokeWidth": 1.5}},
 "encoding": {"x": {"field": "year", "type": "quantitative"},
  "y": {"field": "conc", "type": "quantitative", "scale": {"domain": [0, 25], "nice": false},
   "axis": {"orient": "left", "values": [0,2.5,5,7.5,10,12.5,15,17.5,20,22.5,25],
    "tickSize": {"condition": {"test": "datum.value % 5 == 0", "value": 31}, "value": 16},
    "labelExpr": "datum.value % 5 == 0 ? toString(datum.value) : ''",
    "labelFontSize": 26, "labelPadding": 16, "title": null}}}}
]
}
],
"resolve": {"scale": {"y": "independent"}}
}
